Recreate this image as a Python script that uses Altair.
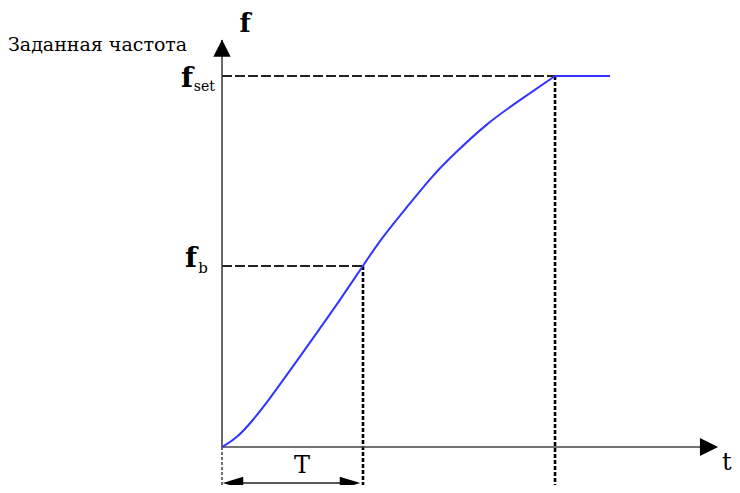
import altair as alt
import pandas as pd

# ---- data (normalised units: T = 1, f_set = 1) ----
t_curve = [0.0, 0.10, 0.220, 0.340, 0.461, 0.574, 0.695, 0.816, 1.0, 1.121, 1.312, 1.496, 1.638, 1.879, 2.113, 2.362]
f_curve = [0.0, 0.022, 0.072, 0.131, 0.195, 0.255, 0.320, 0.385, 0.488, 0.558, 0.647, 0.733, 0.787, 0.873, 0.935, 1.0]

T_B, F_B = 1.0, 0.488
T_SET, F_SET = 2.362, 1.0
T_END = 2.752

X_AXIS_END, X_ARROW = 3.39, 3.454
Y_AXIS_END, Y_ARROW = 1.097, 1.075
T_ARROW_Y = -0.097

X_DOMAIN = [-1.5177, 3.6170]
Y_DOMAIN = [-0.1024, 1.1833]

label_text = ["Заданная частота", "f", "f", "set", "f", "b", "T", "t"]
label_x = [-1.5177, 0.163, -0.248, -0.125, -0.220, -0.135, 0.567, 3.58]
label_y = [1.084, 1.140, 0.992, 0.970, 0.508, 0.482, -0.051, -0.042]
label_size = [19, 26, 28, 14, 28, 15, 24, 24]
label_bold = [False, True, True, False, True, False, False, False]
FONT = "DejaVu Serif"

xs = alt.Scale(domain=X_DOMAIN, nice=False, zero=False)
ys = alt.Scale(domain=Y_DOMAIN, nice=False, zero=False)


def seg_layer(rows, **mark):
    df = pd.DataFrame(rows, columns=["x", "y", "x2", "y2"])
    return alt.Chart(df).mark_rule(**mark).encode(
        x=alt.X("x:Q", scale=xs, axis=None),
        y=alt.Y("y:Q", scale=ys, axis=None),
        x2="x2:Q",
        y2="y2:Q",
    )


curve_df = pd.DataFrame({"t": t_curve, "f": f_curve})
curve = alt.Chart(curve_df).mark_line(color="#3333ff", strokeWidth=2, interpolate="basis").encode(
    x=alt.X("t:Q", scale=xs, axis=None),
    y=alt.Y("f:Q", scale=ys, axis=None),
    order=alt.Order("t:Q"),
)

flat = seg_layer([[T_SET, F_SET, T_END, F_SET]], color="#3333ff", strokeWidth=2)

axes = seg_layer(
    [[0, 0, X_AXIS_END, 0], [0, 0, 0, Y_AXIS_END]],
    color="#444444", strokeWidth=1.6,
)

hdash = seg_layer(
    [[0, F_SET, T_SET, F_SET], [0, F_B, T_B, F_B]],
    color="#222222", strokeWidth=2, strokeDash=[10, 3],
)

vdot = seg_layer(
    [[T_B, F_B, T_B, Y_DOMAIN[0]], [T_SET, F_SET, T_SET, Y_DOMAIN[0]]],
    color="#000000", strokeWidth=2.6, strokeDash=[4, 2],
)

vleft = seg_layer(
    [[0, 0, 0, Y_DOMAIN[0]]],
    color="#222222", strokeWidth=1.3, strokeDash=[3, 2],
)

tline = seg_layer(
    [[0.08, T_ARROW_Y, 0.90, T_ARROW_Y]],
    color="#222222", strokeWidth=1.5,
)


def head(x, y, shape, size):
    df = pd.DataFrame({"x": [x], "y": [y]})
    return alt.Chart(df).mark_point(shape=shape, filled=True, size=size, color="black", opacity=1).encode(
        x=alt.X("x:Q", scale=xs, axis=None),
        y=alt.Y("y:Q", scale=ys, axis=None),
    )


heads = [
    head(X_ARROW, 0, "M1,0 L-1,-1 L-1,1 Z", 330),
    head(0, Y_ARROW, "M0,-1 L1,1 L-1,1 Z", 300),
    head(0.078, T_ARROW_Y, "M-1,0 L1,-0.6 L1,0.6 Z", 420),
    head(0.908, T_ARROW_Y, "M1,0 L-1,-0.6 L-1,0.6 Z", 420),
]

texts = []
for i in range(len(label_text)):
    df = pd.DataFrame({"text": [label_text[i]], "x": [label_x[i]], "y": [label_y[i]]})
    texts.append(
        alt.Chart(df).mark_text(
            font=FONT,
            fontSize=label_size[i],
            align="left" if i == 0 else "center",
            baseline="middle",
            fontWeight="bold" if label_bold[i] else "normal",
            color="#000000",
        ).encode(
            x=alt.X("x:Q", scale=xs, axis=None),
            y=alt.Y("y:Q", scale=ys, axis=None),
            text="text:N",
        )
    )

chart = alt.layer(
    hdash, vdot, vleft, axes, tline, curve, flat, *heads, *texts
).properties(
    width=724, height=477,
    autosize=alt.AutoSizeParams(type="none"),
    padding=0,
).configure_view(strokeWidth=0)

chart.save("out.html", embed_options={"renderer": "svg", "actions": False})
